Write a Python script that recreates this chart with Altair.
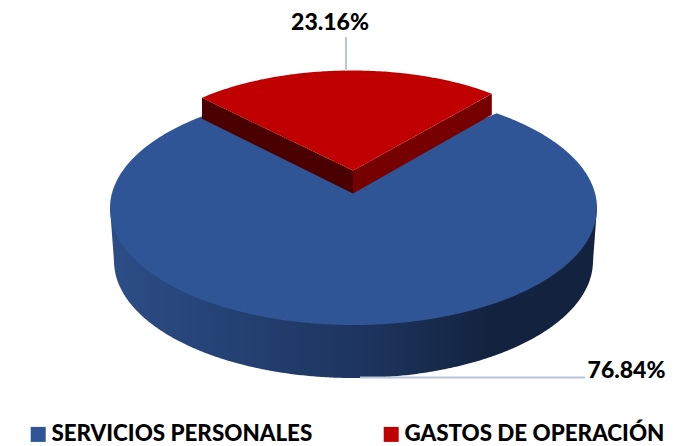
import numpy as np
import pandas as pd
import altair as alt

CATEGORIES = ["SERVICIOS PERSONALES", "GASTOS DE OPERACIÓN"]
VALUES = [76.84, 23.16]
LABELS = ["76.84%", "23.16%"]
COLORS = ["#2F5597", "#C00000"]
FONT = "Lato"

# pie geometry, in pixels of the picture
CX, CY, RX, RY = 353.5, 208.0, 243.5, 117.0
BOTTOM_CY, BOTTOM_RX = 261.0, 239.5
NOTCH_Y = 172.0
SQUEEZE = 0.885          # perspective foreshortening of the blue notch
MID_ANGLE = -1.8
RED_APEX = (353.0, 170.5)
RED_CX, RED_CY, RED_RX, RED_RY = 352.0, 170.0, 218.0, 99.5
RED_DEPTH = (21.0, 23.0, 21.0)

sweep = VALUES[1] / sum(VALUES) * 360.0


def ellipse_dx(deg, rx):
    return rx * np.sin(np.radians(deg))


# ---- blue side wall and top
t = np.linspace(0, np.pi, 361)
xs = np.sort(np.unique(CX - RX * np.cos(t)))
dx = xs - CX
inside = np.abs(dx) <= BOTTOM_RX
wall_low = np.where(
    inside,
    BOTTOM_CY + RY * np.sqrt(np.clip(1 - (dx / BOTTOM_RX) ** 2, 0, 1)),
    CY + (BOTTOM_CY - CY) * (RX - np.abs(dx)) / (RX - BOTTOM_RX),
)
wall = pd.DataFrame({"x": xs, "y": np.full_like(xs, CY), "y2": wall_low})

a0 = (-1.0 - sweep / 2) * SQUEEZE
a1 = (-1.0 + sweep / 2) * SQUEEZE
nx0, nx1 = CX + ellipse_dx(a0, RX), CX + ellipse_dx(a1, RX)
ny0 = CY - RY * np.cos(np.radians(a0))
ny1 = CY - RY * np.cos(np.radians(a1))
xs_top = np.sort(np.unique(np.concatenate([xs, [nx0, nx1, CX]])))
d = xs_top - CX
edge_up = CY - RY * np.sqrt(np.clip(1 - (d / RX) ** 2, 0, 1))
edge_low = CY + RY * np.sqrt(np.clip(1 - (d / RX) ** 2, 0, 1))
notch = np.interp(xs_top, [nx0, CX, nx1], [ny0, NOTCH_Y, ny1])
upper = np.where((xs_top >= nx0) & (xs_top <= nx1), notch, edge_up)
blue_top = pd.DataFrame({"x": xs_top, "y": upper, "y2": edge_low, "serie": CATEGORIES[0]})

# ---- red slice
ang = np.linspace(MID_ANGLE - sweep / 2, MID_ANGLE + sweep / 2, 121)
arc_x = RED_CX + ellipse_dx(ang, RED_RX)
arc_y = RED_CY - RED_RY * np.cos(np.radians(ang))
lx, ly, rx_, ry_ = arc_x[0], arc_y[0], arc_x[-1], arc_y[-1]
ax_, ay_ = RED_APEX
red_xs = np.sort(np.unique(np.concatenate([arc_x, [ax_]])))
red_low = np.interp(red_xs, [lx, ax_, rx_], [ly, ay_, ry_])
red_up = np.interp(red_xs, arc_x, arc_y)
red_top = pd.DataFrame({"x": red_xs, "y": red_up, "y2": red_low, "serie": CATEGORIES[1]})
red_left = pd.DataFrame({"x": [lx, ax_], "y": [ly, ay_],
                         "y2": [ly + RED_DEPTH[0], ay_ + RED_DEPTH[1]]})
red_right = pd.DataFrame({"x": [ax_, rx_], "y": [ay_, ry_],
                          "y2": [ay_ + RED_DEPTH[1], ry_ + RED_DEPTH[2]]})

# ---- leaders and labels
leaders = pd.DataFrame({
    "x": [346.0, 360.0], "y": [37.0, 377.5],
    "x2": [346.0, 585.0], "y2": [71.0, 377.5],
})
labels = pd.DataFrame({
    "x": [626.5, 330.0], "y": [370.5, 23.0], "t": LABELS,
})

X = alt.Scale(domain=[8, 666], range=[0, 658], nice=False, zero=False)
Y = alt.Scale(domain=[446, 8], range=[438, 0], nice=False, zero=False)
x = alt.X("x:Q", scale=X, axis=None)
y = alt.Y("y:Q", scale=Y, axis=None)

wall_fill = alt.Gradient(
    gradient="linear", x1=0, x2=1, y1=0, y2=0,
    stops=[
        alt.GradientStop(offset=0.0, color="#2C4D86"),
        alt.GradientStop(offset=0.3, color="#233F70"),
        alt.GradientStop(offset=0.55, color="#1C335C"),
        alt.GradientStop(offset=0.78, color="#13233F"),
        alt.GradientStop(offset=1.0, color="#13233F"),
    ],
)


def surface(df, **kw):
    return alt.Chart(df).mark_area(**kw).encode(x=x, y=y, y2="y2:Q")


color = alt.Color(
    "serie:N",
    scale=alt.Scale(domain=CATEGORIES, range=COLORS),
    legend=alt.Legend(
        title=None, orient="none", direction="horizontal",
        legendX=19, legendY=415, symbolType="square", symbolSize=225,
        symbolStrokeWidth=0, labelFont=FONT, labelFontWeight=900,
        labelFontSize=22.4, labelColor="#000000", labelOffset=2,
        columnPadding=67, labelLimit=400,
    ),
)

chart = alt.layer(
    surface(wall, color=wall_fill),
    alt.Chart(blue_top).mark_area().encode(x=x, y=y, y2="y2:Q", color=color),
    surface(red_left, color="#4A0000"),
    surface(red_right, color="#760000"),
    alt.Chart(red_top).mark_area().encode(x=x, y=y, y2="y2:Q", color=color),
    alt.Chart(leaders).mark_rule(color="#B8C6D9", strokeWidth=2).encode(
        x=x, y=y, x2="x2:Q", y2="y2:Q"),
    alt.Chart(labels).mark_text(
        font=FONT, fontWeight=900, fontSize=23, color="#000000",
        align="center", baseline="middle",
    ).encode(x=x, y=y, text="t:N"),
).properties(
    width=658, height=438, padding=0,
    autosize=alt.AutoSizeParams(type="none"),
).configure_view(stroke=None)

chart.save("out.html", embed_options={"renderer": "svg", "actions": False})
